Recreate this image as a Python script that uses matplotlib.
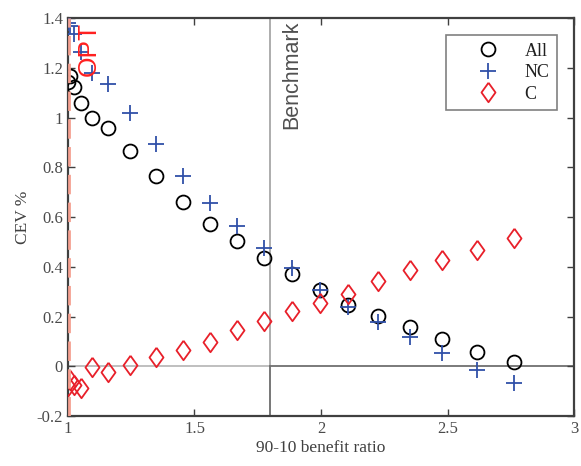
import numpy as np
import matplotlib
matplotlib.use('Agg')
import matplotlib.pyplot as plt

# benefit ratio (x) and CEV % for each group
ratio = [1.0, 1.008, 1.025, 1.05, 1.095, 1.158, 1.245, 1.348, 1.455, 1.561,
         1.668, 1.775, 1.885, 1.996, 2.107, 2.227, 2.35, 2.48, 2.615, 2.763]
cev_all = [1.142, 1.166, 1.122, 1.057, 0.997, 0.957, 0.864, 0.764, 0.659, 0.571,
           0.503, 0.434, 0.370, 0.306, 0.245, 0.201, 0.157, 0.109, 0.056, 0.016]
cev_nc = [1.38, 1.37, 1.335, 1.262, 1.178, 1.134, 1.017, 0.896, 0.764, 0.655,
          0.563, 0.474, 0.394, 0.308, 0.240, 0.178, 0.117, 0.053, -0.015, -0.066]
cev_c = [-0.08, -0.056, -0.076, -0.088, -0.004, -0.022, 0.004, 0.036, 0.066, 0.098,
         0.145, 0.181, 0.221, 0.254, 0.293, 0.343, 0.387, 0.427, 0.466, 0.515]

opt_x = 1.0
bench_x = 1.8
xticks = [1, 1.5, 2, 2.5, 3]
xtick_labels = ['1', '1.5', '2', '2.5', '3']
yticks = [-0.2, 0, 0.2, 0.4, 0.6, 0.8, 1.0, 1.2, 1.4]
ytick_labels = ['-0.2', '0', '0.2', '0.4', '0.6', '0.8', '1', '1.2', '1.4']

serif = ['Liberation Serif', 'DejaVu Serif']
sans = ['Liberation Sans', 'DejaVu Sans']
axcol = '#404040'

fig = plt.figure(figsize=(5.81, 4.66), dpi=100)
ax = fig.add_axes([0.117, 0.107, 0.871, 0.854])

# reference lines
ax.axhline(0, color='#b4b4b4', lw=1.2, zorder=1)
ax.axvline(bench_x, color='#a0a0a0', lw=1.2, zorder=1)
ax.plot([bench_x, bench_x], [-0.2, 0], color='#707070', lw=1.2, zorder=1.5)
ax.plot([bench_x, 3], [0, 0], color='#707070', lw=1.2, zorder=1.5)
ax.axvline(opt_x + 0.006, color='#f4a090', lw=2, ls=(0, (7, 3)), zorder=4)

diamond = [(0, 1), (0.72, 0), (0, -1), (-0.72, 0), (0, 1)]
ax.plot(ratio, cev_all, 'o', ls='none', mfc='none', mec='black', mew=1.3, ms=10, label='All', zorder=3)
ax.plot(ratio, cev_nc, '+', ls='none', color='#3050a8', mew=1.3, ms=11, label='NC', zorder=3)
ax.plot(ratio, cev_c, marker=diamond, ls='none', mfc='none', mec='#e8202a', mew=1.3, ms=14, label='C', zorder=3)

ax.text(1.083, 1.385, 'OPT', rotation=90, color='#ff2020', fontsize=19, family=sans,
        ha='center', va='top', zorder=5)
ax.text(1.885, 1.39, 'Benchmark', rotation=90, color='#505050', fontsize=15.5, family=sans,
        ha='center', va='top')

ax.set_xlim(1, 3)
ax.set_ylim(-0.2, 1.4)
ax.set_xticks(xticks)
ax.set_xticklabels(xtick_labels, family=serif, fontsize=12)
ax.set_yticks(yticks)
ax.set_yticklabels(ytick_labels, family=serif, fontsize=12)
ax.tick_params(direction='in', top=True, right=True, length=5, width=1, colors=axcol,
               labelcolor='#4a4a4a')
for s in ax.spines.values():
    s.set_color(axcol)
    s.set_linewidth(1.6)

ax.set_xlabel('90-10 benefit ratio', family=serif, fontsize=12.5, color='#404040', labelpad=2)
ax.set_ylabel('CEV %', family=serif, fontsize=12.5, color='#404040', labelpad=4)

leg = ax.legend(loc='upper right', bbox_to_anchor=(0.966, 0.957), borderaxespad=0,
                prop={'family': serif, 'size': 13},
                fancybox=False, edgecolor='#808080', framealpha=1, handletextpad=0.15,
                borderpad=0.4, labelspacing=0.25, handlelength=3.8, markerfirst=True)
leg.get_frame().set_linewidth(1.2)
for t in leg.get_texts():
    t.set_color('#202020')

fig.savefig('out.png', dpi=100)
